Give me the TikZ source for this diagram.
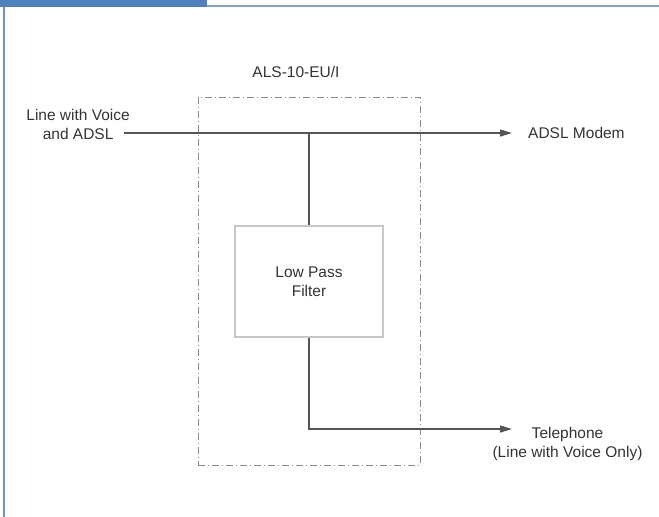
\documentclass[tikz,border=0pt]{standalone}
\usepackage{fontspec}
\setmainfont{Liberation Sans}
\usetikzlibrary{arrows.meta}
\definecolor{hdrblue}{HTML}{4F81BD}
\definecolor{thinblue}{HTML}{7FA2D2}
\definecolor{sideblue}{HTML}{6A92CC}
\definecolor{wire}{HTML}{555555}
\definecolor{txt}{HTML}{333333}
\definecolor{boxgray}{HTML}{8A8A8A}
\definecolor{filtgray}{HTML}{C8C8C8}
\tikzset{
  lbl/.style={inner sep=0pt, text=txt, font=\fontsize{15.5}{19}\selectfont, align=center},
  wireline/.style={draw=wire, line width=1.4pt},
  arrowline/.style={wireline, -{Triangle[length=12pt,width=7pt]}},
  dashbox/.style={draw=boxgray, line width=1pt, dash pattern=on 7pt off 3pt on 1pt off 3pt},
  filterbox/.style={draw=filtgray, line width=1.2pt, minimum width=148pt, minimum height=111pt, inner sep=0pt, text=txt, font=\fontsize{15.5}{19}\selectfont, align=center}
}
\begin{document}
\begin{tikzpicture}[x=1pt,y=-1pt]
\useasboundingbox (0,0) rectangle (659,517);
% frame
\fill[hdrblue] (0,0) rectangle (207,7);
\draw[thinblue, line width=2pt] (207,5.7) -- (659,5.7);
\draw[sideblue, line width=2pt] (3.5,7) -- (3.5,517);
% enclosure
\node[dashbox, minimum width=222pt, minimum height=368pt, inner sep=0pt] (encl) at (309,281) {};
\node[lbl, anchor=base] (title) at (296,77) {ALS-10-EU/I};
% filter
\node[filterbox] (filter) at (309,281.5) {Low Pass\\Filter};
% input
\node[lbl, anchor=east] (inlbl) at (130,124) {Line with Voice\\and ADSL};
\coordinate (instart) at (124,133);
\coordinate (junction) at (309,133);
\coordinate (modemend) at (512,133);
\node[lbl, anchor=west] (modem) at (528,133) {ADSL Modem};
\draw[wireline] (instart) -- (junction);
\draw[arrowline] (junction) -- (modemend);
\draw[wireline] (junction) -- (filter.north);
% telephone
\coordinate (corner) at (309,429);
\coordinate (telend) at (512,429);
\node[lbl, anchor=north] (tel) at (567.5,427) {Telephone\\(Line with Voice Only)};
\draw[arrowline] (filter.south) -- (corner) -- (telend);
\end{tikzpicture}
\end{document}
